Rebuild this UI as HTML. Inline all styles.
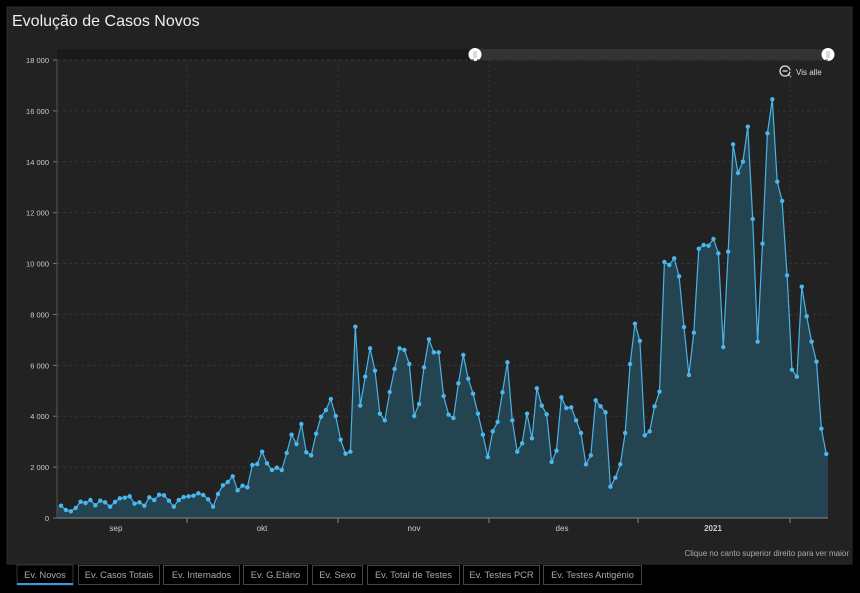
<!DOCTYPE html>
<html><head><meta charset="utf-8"><style>
body{margin:0;background:#000;width:860px;height:593px;overflow:hidden;font-family:"Liberation Sans",sans-serif}
svg{display:block}
</style></head><body>
<svg id="s" width="860" height="593" xmlns="http://www.w3.org/2000/svg" font-family="Liberation Sans, sans-serif">
<rect x="0" y="0" width="860" height="593" fill="#000"/>
<rect x="7" y="7" width="845" height="557" fill="#222" stroke="#2c2c2c"/>
<text x="12" y="26" fill="#eee" font-size="16">Evolução de Casos Novos</text>
<rect x="57" y="49" width="418" height="11" fill="#1a1a1a"/>
<rect x="475" y="49" width="353" height="11" fill="#333"/>
<circle cx="475" cy="54.5" r="6.5" fill="#fff"/>
<line x1="474" y1="51" x2="474" y2="58" stroke="#999" stroke-width="0.7"/><line x1="476" y1="51" x2="476" y2="58" stroke="#999" stroke-width="0.7"/>
<circle cx="828" cy="54.5" r="6.5" fill="#fff"/>
<line x1="827" y1="51" x2="827" y2="58" stroke="#999" stroke-width="0.7"/><line x1="829" y1="51" x2="829" y2="58" stroke="#999" stroke-width="0.7"/>
<circle cx="785" cy="71" r="5" fill="none" stroke="#ddd" stroke-width="1.3"/>
<line x1="782.5" y1="71" x2="787.5" y2="71" stroke="#ddd" stroke-width="1.3"/>
<line x1="788.5" y1="74.5" x2="791" y2="77" stroke="#ddd" stroke-width="1.5"/>
<text x="796" y="75" fill="#ddd" font-size="8">Vis alle</text>
<g id="grid"></g>
<g id="data"></g>
<line x1="57" y1="518" x2="828" y2="518" stroke="#888" stroke-width="1"/>
<line x1="57" y1="60" x2="57" y2="518" stroke="#555" stroke-width="1"/>
<g font-size="8" fill="#ccc" text-anchor="middle">
<text x="116" y="531">sep</text><text x="262" y="531">okt</text><text x="414" y="531">nov</text><text x="562" y="531">des</text><text x="713" y="531" font-weight="bold">2021</text>
</g>
<text x="849" y="556" fill="#aaa" font-size="8" text-anchor="end">Clique no canto superior direito para ver maior</text>
<g font-size="9.3" fill="#aaa" text-anchor="middle">
<rect x="17" y="565" width="56" height="20" fill="#000" stroke="#333"/><text x="45" y="578">Ev. Novos</text>
<rect x="17" y="583" width="56" height="2" fill="#3a9bd8"/>
<rect x="78.5" y="565.5" width="81" height="19" fill="#000" stroke="#444"/><text x="119" y="578">Ev. Casos Totais</text>
<rect x="163.5" y="565.5" width="76" height="19" fill="#000" stroke="#444"/><text x="201.5" y="578">Ev. Internados</text>
<rect x="243.5" y="565.5" width="64" height="19" fill="#000" stroke="#444"/><text x="275.5" y="578">Ev. G.Etário</text>
<rect x="312.5" y="565.5" width="50" height="19" fill="#000" stroke="#444"/><text x="337.5" y="578">Ev. Sexo</text>
<rect x="367.5" y="565.5" width="92" height="19" fill="#000" stroke="#444"/><text x="413.5" y="578">Ev. Total de Testes</text>
<rect x="463.5" y="565.5" width="76" height="19" fill="#000" stroke="#444"/><text x="501.5" y="578">Ev. Testes PCR</text>
<rect x="543.5" y="565.5" width="98" height="19" fill="#000" stroke="#444"/><text x="592.5" y="578">Ev. Testes Antigénio</text>
</g>
</svg>
<script>
var v=[485,315,262,393,642,590,707,498,681,616,445,629,773,799,852,563,616,485,812,707,917,891,681,445,707,825,852,878,969,904,734,445,943,1284,1415,1638,1088,1271,1205,2083,2122,2607,2148,
1886,1978,1886,2555,3275,2908,3694,2581,2463,3314,3983,4244,4677,4009,3079,2529,2607,7520,4417,5556,6668,5791,4100,3838,4952,5856,6668,6603,6052,4009,4480,5921,7022,6511,6511,4795,4061,3930,5292,6406,5476,4886,4100,
3275,2397,3406,3773,4939,6118,3838,2607,2935,4100,3131,5096,4415,4074,2201,2646,4742,4323,4349,3838,3341,2109,2463,4624,4388,4153,1231,1585,2109,3341,6052,7638,6957,3249,3406,4388,4965,10061,9943,
10205,9498,7506,5620,7283,10585,10729,10703,10965,10401,6720,10467,14685,13559,14004,15380,11751,6930,10781,15117,16453,13217,12459,9537,5830,5554,9091,7926,6930,6144,3511,2516];
var NS="http://www.w3.org/2000/svg";
function el(t,a,p){var e=document.createElementNS(NS,t);for(var k in a)e.setAttribute(k,a[k]);p.appendChild(e);return e;}
var g=document.getElementById('grid'),d=document.getElementById('data');
for(var i=0;i<=9;i++){var y=518-i*2000*458/18000;
 if(i>0)el('line',{x1:57,y1:y,x2:828,y2:y,stroke:'#353535','stroke-dasharray':'3,3'},g);
 el('line',{x1:53,y1:y,x2:57,y2:y,stroke:'#777'},g);
 var t=el('text',{x:49,y:y+3,fill:'#ccc','font-size':'7.5','text-anchor':'end'},g);t.textContent=i==0?'0':(i*2).toString()+' 000';}
[187,338,489,638,790].forEach(function(x){el('line',{x1:x,y1:60,x2:x,y2:518,stroke:'#353535','stroke-dasharray':'2,3'},g);el('line',{x1:x,y1:518,x2:x,y2:523,stroke:'#888'},g);});
var pts=[],n=v.length,st=(826.3-61)/(n-1);
for(var i=0;i<n;i++){pts.push([61+i*st,518-v[i]*458/18000]);}
var s=pts.map(function(p){return p[0].toFixed(1)+','+p[1].toFixed(1)}).join(' ');
el('polygon',{points:'57,518 57,'+pts[0][1].toFixed(1)+' '+s+' 828,'+pts[n-1][1].toFixed(1)+' 828,518',fill:'#244452'},d);
el('polyline',{points:s,fill:'none',stroke:'#4ab3e6','stroke-width':'1.2'},d);
pts.forEach(function(p){el('circle',{cx:p[0],cy:p[1],r:2.2,fill:'#4ab8ee'},d);});
</script>
</body></html>
